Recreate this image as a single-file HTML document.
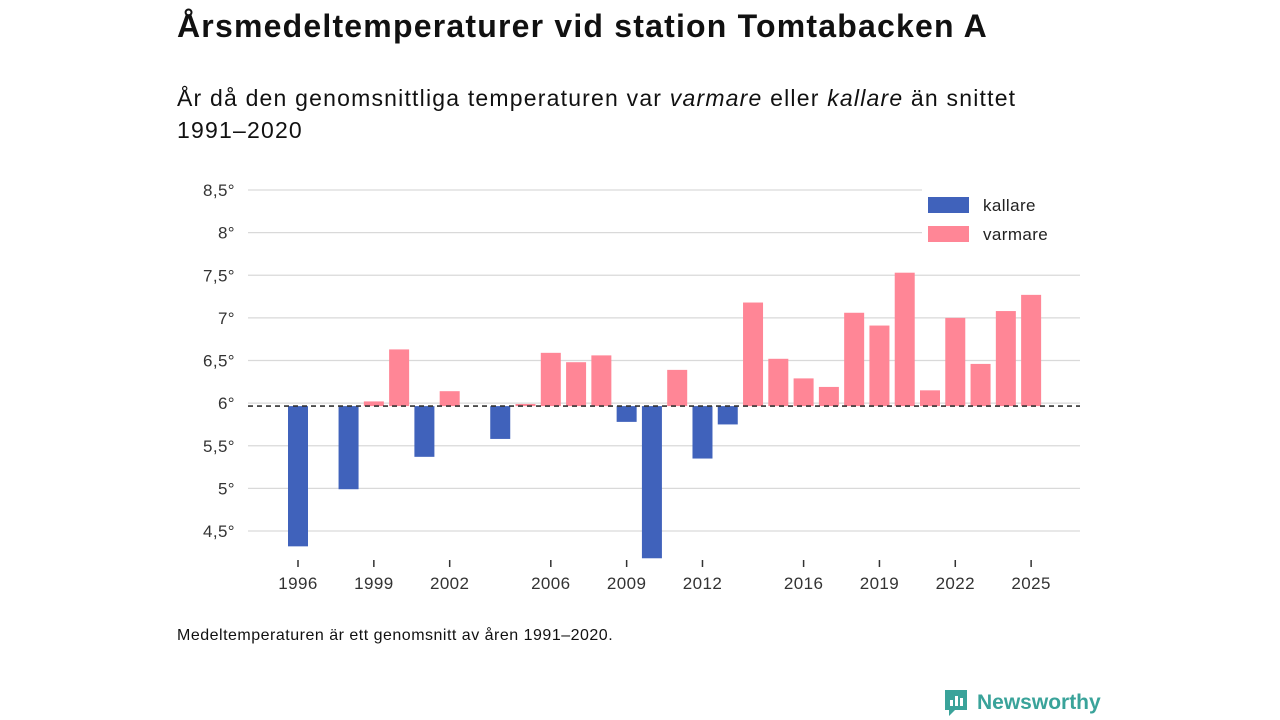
<!DOCTYPE html>
<html><head><meta charset="utf-8">
<style>
body{margin:0;width:1280px;height:720px;background:#fff;font-family:"Liberation Sans","DejaVu Sans",sans-serif;color:#111;position:relative;overflow:hidden}
h1{position:absolute;left:177px;top:8px;margin:0;font-size:32px;font-weight:bold;letter-spacing:1.2px;white-space:nowrap}
.sub{position:absolute;left:177px;top:82px;font-size:23px;line-height:32px;width:860px;letter-spacing:1.2px}
.note{position:absolute;left:177px;top:627px;font-size:16px;letter-spacing:0.5px}
.logo{position:absolute;left:943px;top:688px;font-size:21px;font-weight:bold;color:#3aa39a;display:flex;align-items:center;gap:8px}
svg text{font-family:"Liberation Sans","DejaVu Sans",sans-serif;letter-spacing:0.4px}
</style></head><body>
<h1>Årsmedeltemperaturer vid station Tomtabacken A</h1>
<div class="sub">År då den genomsnittliga temperaturen var <i>varmare</i> eller <i>kallare</i> än snittet 1991–2020</div>
<svg id="chart" width="1280" height="720" style="position:absolute;left:0;top:0"></svg>
<div class="note">Medeltemperaturen är ett genomsnitt av åren 1991–2020.</div>
<div class="logo"><svg width="26" height="30" viewBox="0 0 26 30"><path d="M2 2h22v20H12l-6 6v-6H2z" fill="#3aa39a"/><rect x="7" y="12" width="3" height="6" fill="#fff"/><rect x="12" y="8" width="3" height="10" fill="#fff"/><rect x="17" y="10" width="3" height="8" fill="#fff"/></svg>Newsworthy</div>
<script>
const years=[1996,1998,1999,2000,2001,2002,2004,2005,2006,2007,2008,2009,2010,2011,2012,2013,2014,2015,2016,2017,2018,2019,2020,2021,2022,2023,2024,2025];
const temps=[4.32,4.99,6.02,6.63,5.37,6.14,5.58,5.99,6.59,6.48,6.56,5.78,4.18,6.39,5.35,5.75,7.18,6.52,6.29,6.19,7.06,6.91,7.53,6.15,7.00,6.46,7.08,7.27];
const baseline=5.965;
const yTicks=[4.5,5,5.5,6,6.5,7,7.5,8,8.5];
const xTicks=[1996,1999,2002,2006,2009,2012,2016,2019,2022,2025];
const svg=document.getElementById('chart');const NS='http://www.w3.org/2000/svg';
const x=v=>298+(v-1996)*25.28;
const y=v=>190+(8.5-v)*85.25;
function mk(t,a,p){const e=document.createElementNS(NS,t);for(const k in a)e.setAttribute(k,a[k]);(p||svg).appendChild(e);return e;}
yTicks.forEach(v=>{
 const l=mk('line',{x1:248,x2:1080,y1:y(v),y2:y(v),stroke:'#d9d9d9','stroke-width':1.3});
 
 
 const t=mk('text',{x:235,y:y(v)+6,'text-anchor':'end','font-size':17,fill:'#333'});
 t.textContent=String(v).replace('.',',')+'°';
 
 
});
xTicks.forEach(v=>{
 const l=mk('line',{x1:x(v),x2:x(v),y1:560,y2:567,stroke:'#333','stroke-width':1.5});
 
 
 const t=mk('text',{x:x(v),y:589,'text-anchor':'middle','font-size':17,fill:'#333'});
 t.textContent=v;
 
 
});
years.forEach((yr,i)=>{
 const v=temps[i];const top=Math.min(y(v),y(baseline));const h=Math.abs(y(v)-y(baseline));
 const r=mk('rect',{x:x(yr)-10,y:top,width:20,height:h,fill:v>=baseline?'#ff8696':'#4062bb'});
 
 
});
const d=mk('line',{x1:248,x2:1080,y1:y(baseline),y2:y(baseline),stroke:'#333','stroke-width':1.6,'stroke-dasharray':'5,4'});


const lg=mk('g',{});


mk('rect',{x:922,y:186,width:158,height:64,fill:'#fff'},lg);
[['kallare','#4062bb',205],['varmare','#ff8696',234]].forEach(([n,c,yy])=>{
 const r=mk('rect',{x:928,y:yy-8,width:41,height:16,fill:c},lg);
 
 
 const t=mk('text',{x:983,y:yy+6,'font-size':17,fill:'#222'},lg);t.textContent=n;
 
 
});
</script>
</body></html>
